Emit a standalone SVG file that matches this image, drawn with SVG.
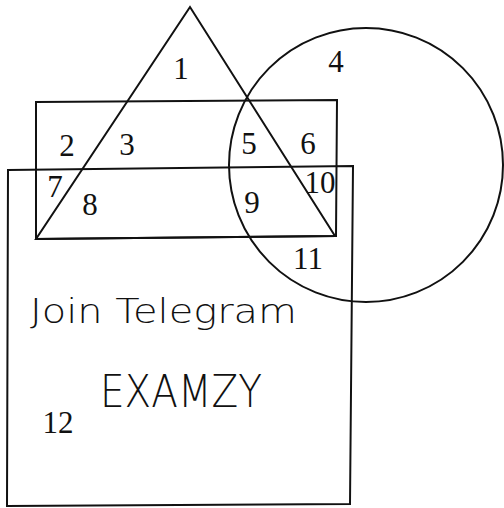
<svg xmlns="http://www.w3.org/2000/svg" width="504" height="508" viewBox="0 0 504 508">
<style>
.s{fill:none;stroke:#111;stroke-width:2;stroke-linejoin:miter}
.n{font-family:"Liberation Serif","DejaVu Serif",serif;font-size:31px;fill:#111;text-anchor:middle}
.h{font-family:"DejaVu Sans","Liberation Sans",sans-serif;font-weight:300;fill:#111}
</style>
<rect width="504" height="508" fill="#fff"/>
<g id="connectors">
<g id="lower-rect"><polygon class="s" points="8,170 353,166 350,504 7,506"/></g>
<g id="upper-rect"><polygon class="s" points="36,102 337,100 336,236 36,239"/></g>
<g id="triangle"><polygon class="s" points="190,7 36,239 335,236"/></g>
<g id="circle"><circle class="s" cx="366" cy="165" r="137"/></g>
</g>
<g id="labels">
<text class="n" x="181" y="79">1</text>
<text class="n" x="336" y="72">4</text>
<text class="n" x="67" y="156">2</text>
<text class="n" x="127" y="155">3</text>
<text class="n" x="249" y="154">5</text>
<text class="n" x="308" y="154">6</text>
<text class="n" x="55" y="197">7</text>
<text class="n" x="90" y="215">8</text>
<text class="n" x="252" y="213">9</text>
<text class="n" x="320" y="193">10</text>
<text class="n" x="308" y="269">11</text>
<text class="n" x="58" y="433">12</text>
</g>
<g id="watermark">
<text class="h" x="30" y="323" font-size="34" textLength="267" lengthAdjust="spacingAndGlyphs">Join Telegram</text>
<text class="h" x="100" y="407" font-size="44" textLength="162" lengthAdjust="spacingAndGlyphs">EXAMZY</text>
</g>
</svg>
